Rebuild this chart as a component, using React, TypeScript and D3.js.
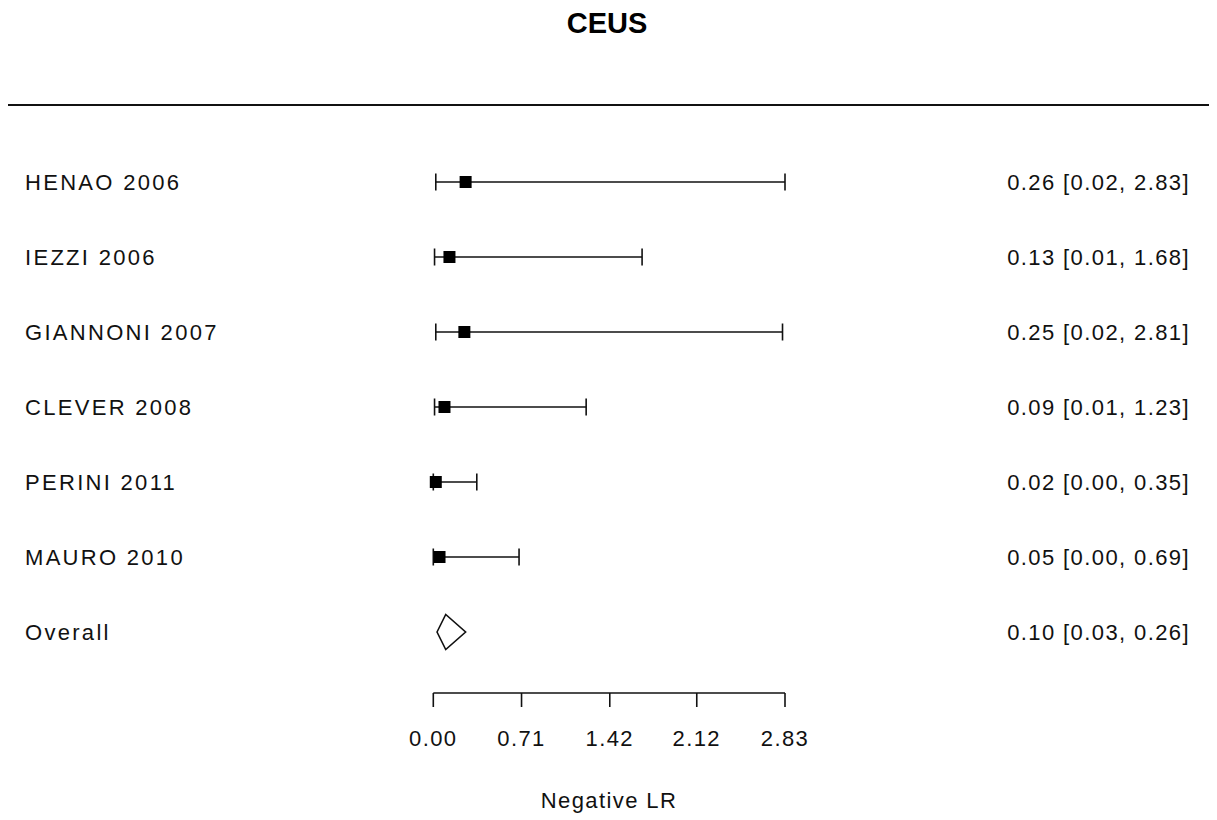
import React from "react";
import * as d3 from "d3";

const title = "CEUS";
const xAxisLabel = "Negative LR";
const studies = ["HENAO 2006", "IEZZI 2006", "GIANNONI 2007", "CLEVER 2008", "PERINI 2011", "MAURO 2010"];
const estimates = [0.26, 0.13, 0.25, 0.09, 0.02, 0.05];
const lowers = [0.02, 0.01, 0.02, 0.01, 0.0, 0.0];
const uppers = [2.83, 1.68, 2.81, 1.23, 0.35, 0.69];
const overallLabel = "Overall";
const overall = { est: 0.1, lo: 0.03, hi: 0.26 };
const tickValues = [0, 0.71, 1.42, 2.12, 2.83];
const tickLabels = ["0.00", "0.71", "1.42", "2.12", "2.83"];

const W = 1217;
const H = 820;
const FONT = "'Liberation Sans', Arial, sans-serif";

export default function App() {
  const x = d3.scaleLinear().domain([0, 2.83]).range([433.3, 785]);
  const rows = [...studies, overallLabel];
  const y = d3.scalePoint<string>().domain(rows).range([182, 632]);
  const fmt = d3.format(".2f");
  const sq = 12;
  const cap = 8.5;
  const axisY = 693;
  const sw = 1.6;
  const leftStyle: React.CSSProperties = { fontFamily: FONT, fontSize: 22, letterSpacing: 2.3, fill: "#111" };
  const textStyle: React.CSSProperties = { fontFamily: FONT, fontSize: 22, letterSpacing: 1.4, fill: "#111" };

  const oy = y(overallLabel)!;
  const diamond = d3.line()([
    [x(overall.lo), oy],
    [x(overall.est), oy - 17.5],
    [x(overall.hi), oy],
    [x(overall.est), oy + 17.5],
  ]) + "Z";

  return (
    <svg width={W} height={H} style={{ position: "absolute", left: 0, top: 0, background: "#fff" }}>
      <rect x={0} y={0} width={W} height={H} fill="#fff" />
      <text x={607} y={33} textAnchor="middle" style={{ fontFamily: FONT, fontSize: 29, fontWeight: "bold", fill: "#000" }}>
        {title}
      </text>
      <line x1={8} x2={1209} y1={105} y2={105} stroke="#111" strokeWidth={1.8} />

      {studies.map((s, i) => {
        const yy = y(s)!;
        return (
          <g key={s}>
            <text x={25} y={yy + 8} style={leftStyle}>{s}</text>
            <line x1={x(lowers[i])} x2={x(uppers[i])} y1={yy} y2={yy} stroke="#111" strokeWidth={sw} />
            <line x1={x(lowers[i])} x2={x(lowers[i])} y1={yy - cap} y2={yy + cap} stroke="#111" strokeWidth={sw} />
            <line x1={x(uppers[i])} x2={x(uppers[i])} y1={yy - cap} y2={yy + cap} stroke="#111" strokeWidth={sw} />
            <rect x={x(estimates[i]) - sq / 2} y={yy - sq / 2} width={sq} height={sq} fill="#000" />
            <text x={1190} y={yy + 8} textAnchor="end" style={textStyle}>
              {`${fmt(estimates[i])} [${fmt(lowers[i])}, ${fmt(uppers[i])}]`}
            </text>
          </g>
        );
      })}

      <text x={25} y={oy + 8} style={leftStyle}>{overallLabel}</text>
      <path d={diamond} fill="#fff" stroke="#111" strokeWidth={sw} />
      <text x={1190} y={oy + 8} textAnchor="end" style={textStyle}>
        {`${fmt(overall.est)} [${fmt(overall.lo)}, ${fmt(overall.hi)}]`}
      </text>

      <line x1={x(0)} x2={x(2.83)} y1={axisY} y2={axisY} stroke="#111" strokeWidth={sw} />
      {tickValues.map((t, i) => (
        <g key={t}>
          <line x1={x(t)} x2={x(t)} y1={axisY} y2={axisY + 14} stroke="#111" strokeWidth={sw} />
          <text x={x(t)} y={axisY + 53} textAnchor="middle" style={textStyle}>{tickLabels[i]}</text>
        </g>
      ))}
      <text x={609} y={808} textAnchor="middle" style={textStyle}>{xAxisLabel}</text>
    </svg>
  );
}
